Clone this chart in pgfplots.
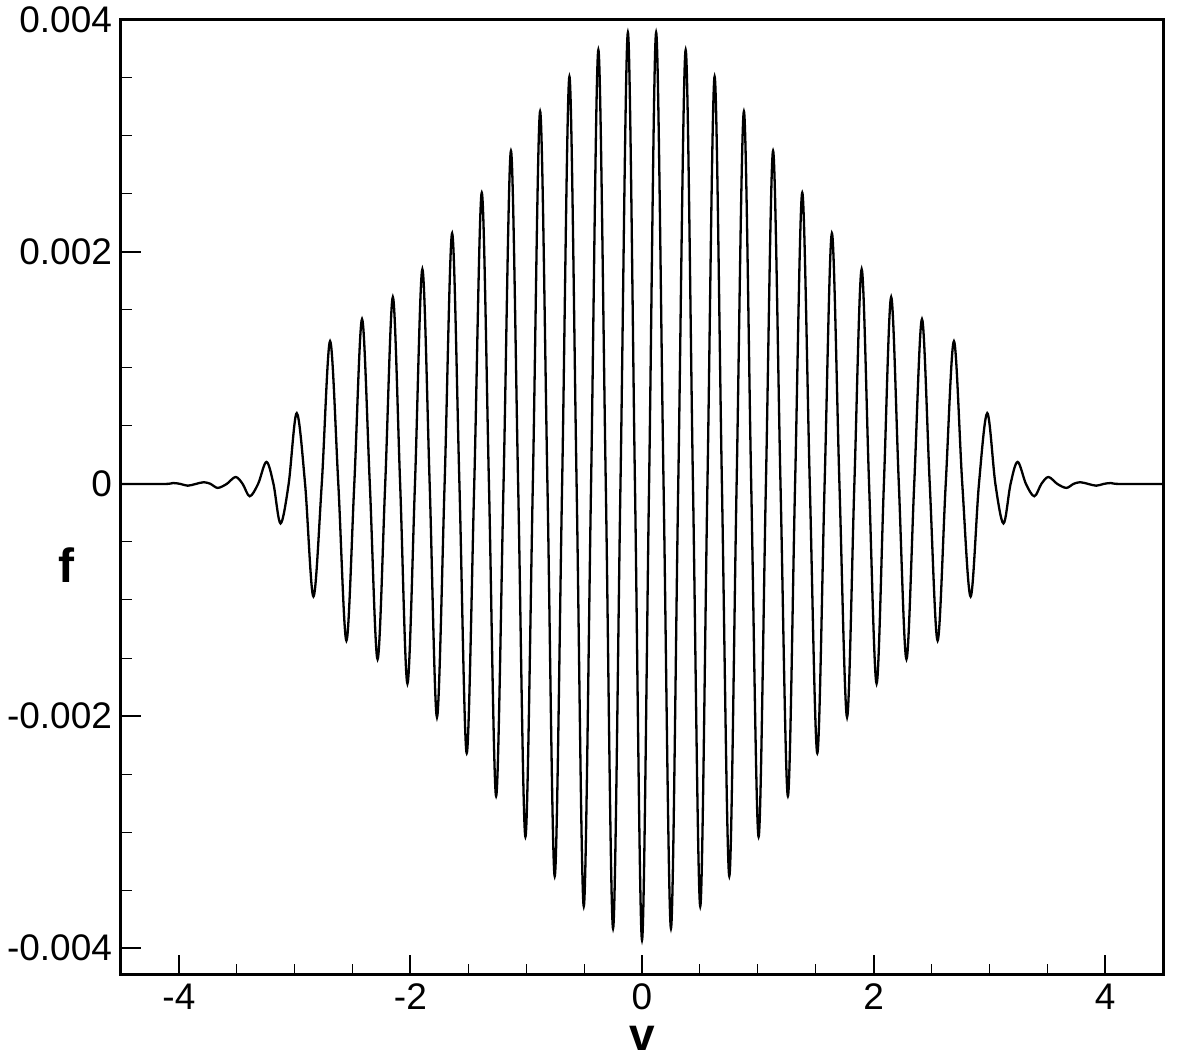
\documentclass[border=0pt]{standalone}
\usepackage{fontspec}
\setmainfont{Liberation Sans}
\usepackage{pgfplots}
\pgfplotsset{compat=1.18}

\begin{document}
\begin{tikzpicture}
\begin{axis}[
  scale only axis,
  width=521pt, height=477.5pt,
  xmin=-4.5, xmax=4.5,
  ymin=-0.00423, ymax=0.004,
  clip=false,
  axis line style={line width=1.5pt},
  xtick={-4,-2,0,2,4}, xticklabels={-4,-2,0,2,4},
  ytick={-0.004,-0.002,0,0.002,0.004},
  yticklabels={-0.004,-0.002,0,0.002,0.004},
  scaled y ticks=false,
  minor x tick num=3, minor y tick num=3,
  xtick pos=lower, ytick pos=left,
  tick align=inside,
  major tick length=10pt, minor tick length=5.5pt,
  every major tick/.style={line width=1pt, black},
  every minor tick/.style={line width=0.5pt, black},
  tick label style={font=\fontsize{18.5}{20}\selectfont},
  xticklabel style={yshift=-1pt},
  yticklabel style={xshift=-1pt},
]
\addplot[black, line width=1.15pt, smooth, tension=0.55] coordinates {
(-4.500,0) (-4.120,0) (-4.050,0.000008) (-3.986,0) (-3.923,-0.000015) (-3.854,0)
(-3.785,0.000015) (-3.725,0) (-3.665,-0.000034) (-3.587,0) (-3.510,0.00006) (-3.449,0)
(-3.388,-0.000106) (-3.316,0) (-3.244,0.00019) (-3.183,0) (-3.122,-0.00034) (-3.052,0)
(-2.982,0.00061) (-2.910,0) (-2.838,-0.00097) (-2.766,0) (-2.694,0.00123) (-2.623,0)
(-2.553,-0.00135) (-2.485,0) (-2.418,0.00142) (-2.351,0) (-2.284,-0.00151) (-2.218,0)
(-2.152,0.00161) (-2.089,0) (-2.026,-0.00172) (-1.961,0) (-1.897,0.00185) (-1.834,0)
(-1.771,-0.00201) (-1.705,0) (-1.640,0.00216) (-1.577,0) (-1.514,-0.00232) (-1.449,0)
(-1.384,0.00251) (-1.322,0) (-1.260,-0.00269) (-1.196,0) (-1.132,0.00287) (-1.070,0)
(-1.007,-0.00304) (-0.943,0) (-0.880,0.00321) (-0.817,0) (-0.754,-0.00338) (-0.690,0)
(-0.627,0.00351) (-0.565,0) (-0.503,-0.00364) (-0.440,0) (-0.377,0.00374) (-0.313,0)
(-0.250,-0.00383) (-0.186,0) (-0.122,0.00389) (-0.061,0)
(0.000,-0.00393)
(0.061,0) (0.122,0.00389) (0.186,0) (0.250,-0.00383) (0.313,0) (0.377,0.00374)
(0.440,0) (0.503,-0.00364) (0.565,0) (0.627,0.00351) (0.690,0) (0.754,-0.00338)
(0.817,0) (0.880,0.00321) (0.943,0) (1.007,-0.00304) (1.070,0) (1.132,0.00287)
(1.196,0) (1.260,-0.00269) (1.322,0) (1.384,0.00251) (1.449,0) (1.514,-0.00232)
(1.577,0) (1.640,0.00216) (1.705,0) (1.771,-0.00201) (1.834,0) (1.897,0.00185)
(1.961,0) (2.026,-0.00172) (2.089,0) (2.152,0.00161) (2.218,0) (2.284,-0.00151)
(2.351,0) (2.418,0.00142) (2.485,0) (2.553,-0.00135) (2.623,0) (2.694,0.00123)
(2.766,0) (2.838,-0.00097) (2.910,0) (2.982,0.00061) (3.052,0) (3.122,-0.00034)
(3.183,0) (3.244,0.00019) (3.316,0) (3.388,-0.000106) (3.449,0) (3.510,0.00006)
(3.587,0) (3.665,-0.000034) (3.725,0) (3.785,0.000015) (3.854,0) (3.923,-0.000015)
(3.986,0) (4.050,0.000008) (4.120,0) (4.500,0)
};
% axis titles, Tecplot style
\node[font=\fontsize{23}{25}\selectfont\bfseries, inner sep=0pt, anchor=center]
  at (rel axis cs:0.5,-0.0665) {v};
\node[font=\fontsize{24}{26}\selectfont\bfseries, inner sep=0pt, anchor=center]
  at (rel axis cs:-0.0523,0.4293) {f};
\coordinate (bl) at (rel axis cs:-0.1161,-0.088);
\coordinate (tr) at (rel axis cs:1.0134,1.0178);
\end{axis}
\path (bl) rectangle (tr);
\end{tikzpicture}
\end{document}
